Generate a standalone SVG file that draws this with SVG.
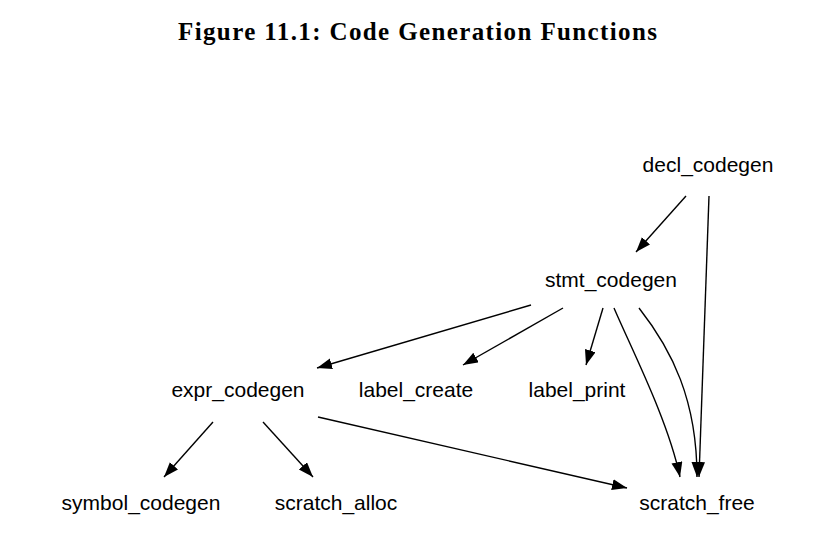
<svg xmlns="http://www.w3.org/2000/svg" width="840" height="533" viewBox="0 0 840 533">
<style>
.t{font-family:"Liberation Serif","Times New Roman",serif;font-weight:bold;font-size:25px;fill:#000}
.n{font-family:"Liberation Sans",Arial,sans-serif;font-size:21px;fill:#000;text-anchor:middle}
.e{fill:none;stroke:#000;stroke-width:1.4}
</style>
<defs>
<marker id="ah" markerUnits="userSpaceOnUse" markerWidth="16" markerHeight="12" refX="15" refY="5.5" orient="auto">
<path d="M0,0 L15,5.5 L0,11 z" fill="#000"/>
</marker>
</defs>
<rect width="840" height="533" fill="#fff"/>
<text class="t" x="178" y="40" textLength="479" lengthAdjust="spacing">Figure 11.1: Code Generation Functions</text>
<g id="connectors">
<path class="e" d="M686,196 L636,252" marker-end="url(#ah)"/>
<path class="e" d="M709,196 L699,477" marker-end="url(#ah)"/>
<path class="e" d="M531,305 L317,368" marker-end="url(#ah)"/>
<path class="e" d="M563,308 L463,365" marker-end="url(#ah)"/>
<path class="e" d="M603,308 L586,365" marker-end="url(#ah)"/>
<path class="e" d="M614,308 C632,350 668,420 680,477" marker-end="url(#ah)"/>
<path class="e" d="M639,308 C672,350 697,400 697,477" marker-end="url(#ah)"/>
<path class="e" d="M213,422 L164,477" marker-end="url(#ah)"/>
<path class="e" d="M263,422 L313,477" marker-end="url(#ah)"/>
<path class="e" d="M318,417 L627,488" marker-end="url(#ah)"/>
</g>
<g id="decl_codegen"><text class="n" x="708" y="172">decl_codegen</text></g>
<g id="stmt_codegen"><text class="n" x="611" y="287">stmt_codegen</text></g>
<g id="expr_codegen"><text class="n" x="238" y="397">expr_codegen</text></g>
<g id="label_create"><text class="n" x="416" y="397">label_create</text></g>
<g id="label_print"><text class="n" x="577" y="397">label_print</text></g>
<g id="symbol_codegen"><text class="n" x="141" y="510">symbol_codegen</text></g>
<g id="scratch_alloc"><text class="n" x="336" y="510">scratch_alloc</text></g>
<g id="scratch_free"><text class="n" x="697" y="510">scratch_free</text></g>
</svg>
